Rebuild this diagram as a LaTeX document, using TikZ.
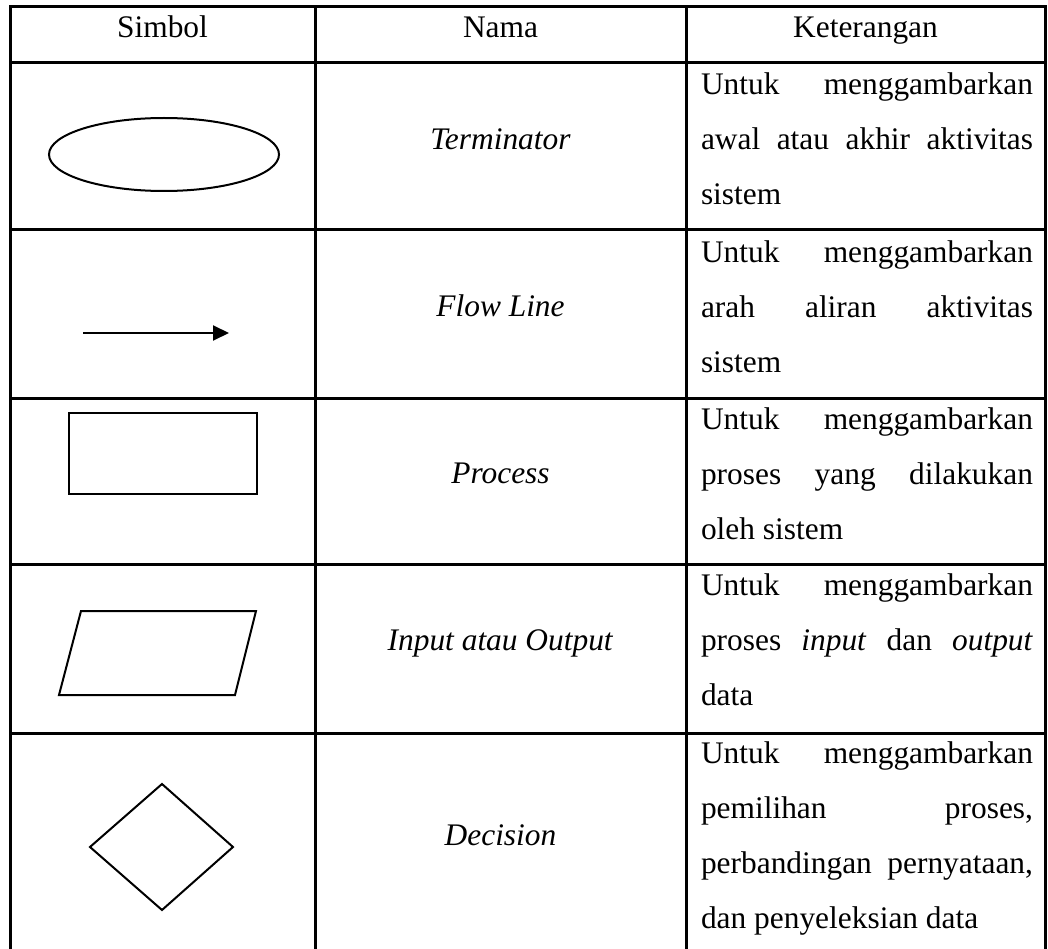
\documentclass[tikz,border=0pt]{standalone}
\usepackage{fontspec}
\setmainfont{Liberation Serif}
\usetikzlibrary{arrows.meta}
\tikzset{
  grid/.style={line width=3pt, line cap=rect},
  shp/.style={line width=2pt, line join=miter},
  txt/.style={inner sep=0pt, outer sep=0pt, font=\fontsize{31.4}{38}\selectfont},
  lft/.style={txt, anchor=base west},
  ctr/.style={txt, anchor=base},
}
\newcommand{\jline}[1]{\makebox[332pt][s]{#1}}
\begin{document}
\begin{tikzpicture}[x=1pt,y=-1pt]
\useasboundingbox (0,0) rectangle (1048,949);
% table grid
\foreach \yy in {7,63,230,398,564,733} \draw[grid] (10,\yy) -- (1045,\yy);
\foreach \xx in {10,315,686,1045} \draw[grid] (\xx,7) -- (\xx,949);
% header
\node[ctr] (hSimbol) at (162.5,38) {Simbol};
\node[ctr] (hNama) at (500.5,38) {Nama};
\node[ctr] (hKet) at (865.5,38) {Keterangan};
% symbols
\draw[shp] (164,154.5) ellipse [x radius=115, y radius=36.5];
\coordinate (fa) at (83,333);
\coordinate (fb) at (229,333);
\draw[shp, -{Triangle[length=16pt,width=15pt]}] (fa) -- (fb);
\draw[shp] (69,413) rectangle (257,494);
\draw[shp] (81,611) -- (256,611) -- (235,695) -- (59,695) -- cycle;
\draw[shp] (162,784) -- (233,847) -- (162,910) -- (90,847) -- cycle;
% names
\node[ctr] (n1) at (500.5,150) {\textit{Terminator}};
\node[ctr] (n2) at (500.5,316.7) {\textit{Flow Line}};
\node[ctr] (n3) at (500.5,483) {\textit{Process}};
\node[ctr] (n4) at (500.5,650.7) {\textit{Input atau Output}};
\node[ctr] (n5) at (500.5,845) {\textit{Decision}};
% descriptions
\node[lft] (k1a) at (701,95) {\jline{Untuk menggambarkan}};
\node[lft] (k1b) at (701,150) {\jline{awal atau akhir aktivitas}};
\node[lft] (k1c) at (701,205) {sistem};
\node[lft] (k2a) at (701,262) {\jline{Untuk menggambarkan}};
\node[lft] (k2b) at (701,317) {\jline{arah aliran aktivitas}};
\node[lft] (k2c) at (701,372) {sistem};
\node[lft] (k3a) at (701,429) {\jline{Untuk menggambarkan}};
\node[lft] (k3b) at (701,484) {\jline{proses yang dilakukan}};
\node[lft] (k3c) at (701,539) {oleh sistem};
\node[lft] (k4a) at (701,595) {\jline{Untuk menggambarkan}};
\node[lft] (k4b) at (701,650) {\jline{proses \textit{input} dan \textit{output}}};
\node[lft] (k4c) at (701,705) {data};
\node[lft] (k5a) at (701,763) {\jline{Untuk menggambarkan}};
\node[lft] (k5b) at (701,818) {\jline{pemilihan proses,}};
\node[lft] (k5c) at (701,873) {\jline{perbandingan pernyataan,}};
\node[lft] (k5d) at (701,928) {dan penyeleksian data};
\end{tikzpicture}
\end{document}
